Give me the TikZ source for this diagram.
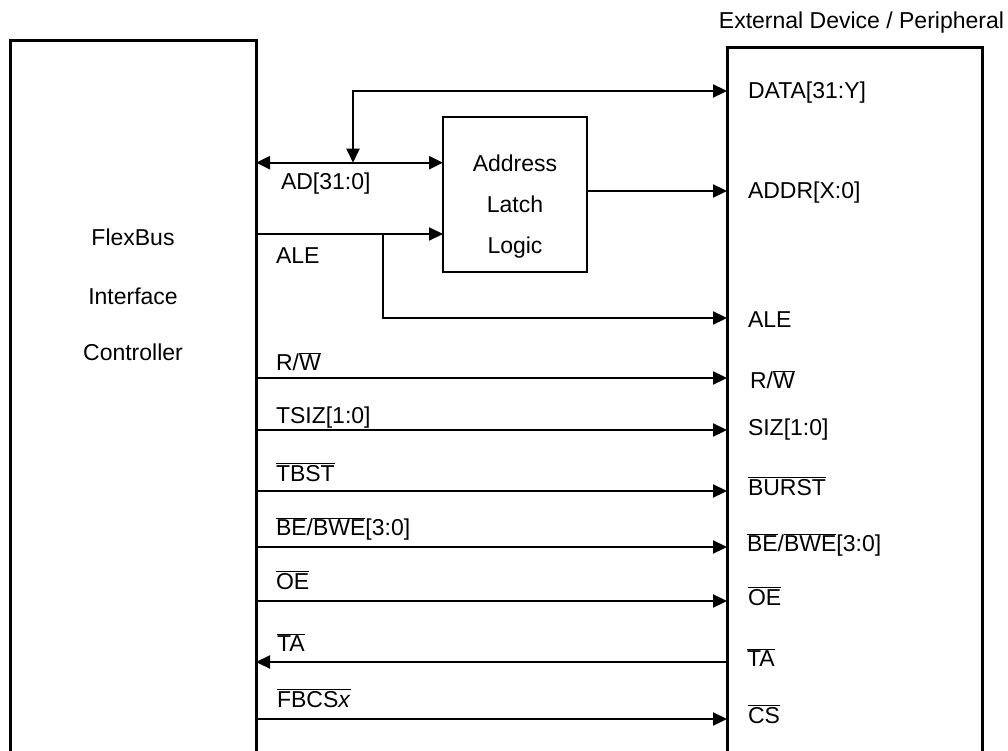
\documentclass[tikz,border=0pt]{standalone}
\usepackage{fontspec}
\setmainfont{Liberation Sans}
\usetikzlibrary{arrows.meta}
\newcommand\ovl[1]{\ensuremath{\overline{\mbox{#1}}}}
\begin{document}
\begin{tikzpicture}[x=1pt,y=-1pt,
  every node/.style={font=\fontsize{23}{27}\selectfont, inner sep=0pt, outer sep=0pt},
  bigbox/.style={draw, line width=3pt, anchor=north west},
  latchbox/.style={draw, line width=2.5pt, anchor=north west},
  wire/.style={line width=2.2pt, -{Triangle[length=14pt,width=13pt]}},
  biwire/.style={line width=2.2pt, {Triangle[length=14pt,width=13pt]}-{Triangle[length=14pt,width=13pt]}},
  plainwire/.style={line width=2.2pt},
  lbl/.style={anchor=base west},
  ctr/.style={anchor=base}]
\clip (0,0) rectangle (1008,751);
\fill[white] (0,0) rectangle (1008,751);
% boxes
\node[bigbox, minimum width=246pt, minimum height=800pt] (fbic) at (10,41) {};
\node[bigbox, minimum width=255pt, minimum height=800pt] (dev) at (727,48) {};
\node[latchbox, minimum width=144pt, minimum height=155pt] (latch) at (443,117) {};
% box texts
\node[ctr] (t1) at (133,245) {FlexBus};
\node[ctr] (t2) at (133,304) {Interface};
\node[ctr] (t3) at (133,360) {Controller};
\node[ctr] (l1) at (515,172) {Address};
\node[ctr] (l2) at (515,213) {Latch};
\node[ctr] (l3) at (515,254) {Logic};
\node[anchor=base east] (ext) at (1004,29) {External Device / Peripheral};
% tap points
\coordinate (datatap) at (353,162.7);
\coordinate (aletap) at (383,234);
% wires
\draw[biwire] (fbic.east |- 0,162.7) -- (latch.west |- 0,162.7);
\draw[biwire] (datatap) |- (dev.west |- 0,91);
\draw[wire] (fbic.east |- 0,234) -- (latch.west |- 0,234);
\draw[wire] (latch.east |- 0,191) -- (dev.west |- 0,191);
\draw[wire] (aletap) |- (dev.west |- 0,318);
\draw[wire] (fbic.east |- 0,378) -- (dev.west |- 0,378);
\draw[wire] (fbic.east |- 0,430) -- (dev.west |- 0,430);
\draw[wire] (fbic.east |- 0,491) -- (dev.west |- 0,491);
\draw[wire] (fbic.east |- 0,547) -- (dev.west |- 0,547);
\draw[wire] (fbic.east |- 0,601) -- (dev.west |- 0,601);
\draw[wire] (dev.west |- 0,662) -- (fbic.east |- 0,662);
\draw[wire] (fbic.east |- 0,719) -- (dev.west |- 0,719);
% left labels
\node[lbl] (ad) at (281,190) {AD[31:0]};
\node[lbl] (alel) at (276,263) {ALE};
\node[lbl] (rwl) at (276,370) {R/\ovl{W}};
\node[lbl] (tsiz) at (276,423) {TSIZ[1:0]};
\node[lbl] (tbst) at (276,481) {\ovl{TBST}};
\node[lbl] (bel) at (276,535) {\ovl{BE}/\ovl{BWE}[3:0]};
\node[lbl] (oel) at (276,589) {\ovl{OE}};
\node[lbl] (tal) at (277,651) {\ovl{TA}};
\node[lbl] (fbcs) at (277,707) {\ovl{FBCS\textit{x}}};
% right labels
\node[lbl] (data) at (748,99) {DATA[31:Y]};
\node[lbl] (addr) at (748,199) {ADDR[X:0]};
\node[lbl] (aler) at (748,327) {ALE};
\node[lbl] (rwr) at (750,388) {R/\ovl{W}};
\node[lbl] (siz) at (748,435) {SIZ[1:0]};
\node[lbl] (burst) at (748,495) {\ovl{BURST}};
\node[lbl] (ber) at (747,551) {\ovl{BE}/\ovl{BWE}[3:0]};
\node[lbl] (oer) at (748,605) {\ovl{OE}};
\node[lbl] (tar) at (747,666) {\ovl{TA}};
\node[lbl] (cs) at (748,723) {\ovl{CS}};
\end{tikzpicture}
\end{document}
